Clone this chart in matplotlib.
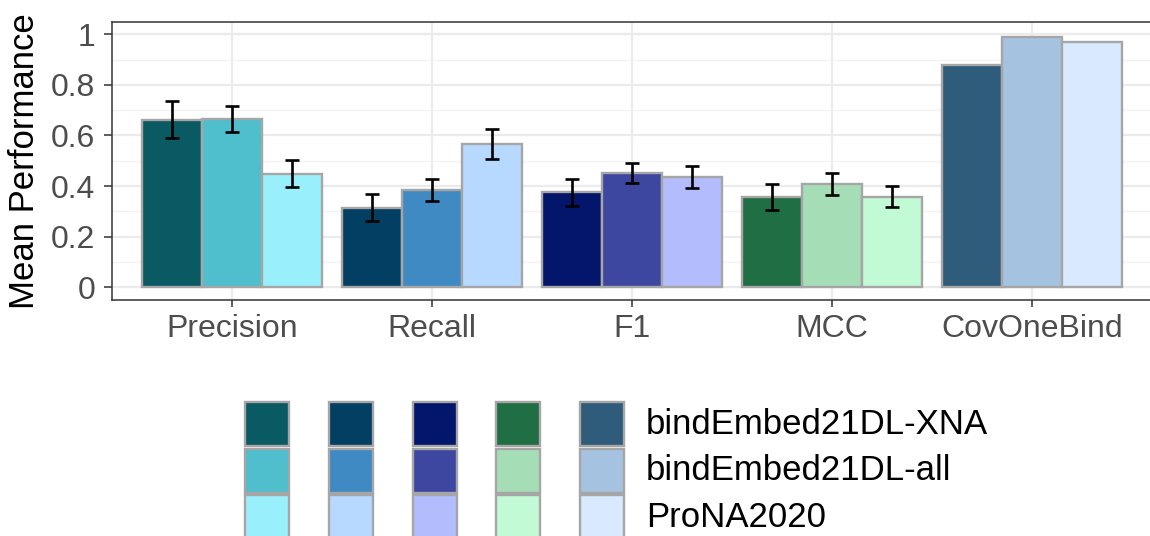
import numpy as np
import matplotlib
matplotlib.use("Agg")
import matplotlib.pyplot as plt
from matplotlib.patches import Rectangle

# ---- data ----
metrics = ["Precision", "Recall", "F1", "MCC", "CovOneBind"]
methods = ["bindEmbed21DL-XNA", "bindEmbed21DL-all", "ProNA2020"]
vals_xna = [0.662, 0.314, 0.375, 0.358, 0.877]
vals_all = [0.666, 0.384, 0.452, 0.408, 0.988]
vals_prona = [0.449, 0.566, 0.437, 0.358, 0.968]
err_xna = [0.074, 0.053, 0.054, 0.052, np.nan]
err_all = [0.052, 0.044, 0.041, 0.044, np.nan]
err_prona = [0.053, 0.060, 0.043, 0.041, np.nan]
colors_xna = ["#0A5A63", "#023F63", "#03166B", "#206E43", "#305C7C"]
colors_all = ["#4FBFCD", "#408AC4", "#3D479F", "#A5DDB7", "#A5C2E0"]
colors_prona = ["#99F0FC", "#B7D8FF", "#B3BCFC", "#C3FAD6", "#D9E9FF"]
yticks = [0, 0.2, 0.4, 0.6, 0.8, 1.0]
ytick_labels = ["0", "0.2", "0.4", "0.6", "0.8", "1"]

plt.rcParams['font.family'] = ['Liberation Sans', 'DejaVu Sans']

W, H = 1150, 536
fig = plt.figure(figsize=(W / 100, H / 100), dpi=100)
ax = fig.add_axes([112 / W, 1 - 300 / H, 1040 / W, (300 - 22.3) / H])

x = np.arange(1, len(metrics) + 1)
bw = 0.3
series = [(vals_xna, err_xna, colors_xna), (vals_all, err_all, colors_all),
          (vals_prona, err_prona, colors_prona)]
for k, (v, e, c) in enumerate(series):
    xs = x + (k - 1) * bw
    ax.bar(xs, v, width=bw, color=c, edgecolor="#A6A6A6", linewidth=1.7, zorder=3)
    ax.errorbar(xs, v, yerr=e, fmt="none", ecolor="black", elinewidth=1.9,
                capsize=4.8, capthick=1.9, zorder=4)

ax.set_xlim(0.4, 5.6)
ax.set_ylim(-0.05, 1.047)
ax.set_yticks(yticks)
ax.set_yticklabels(ytick_labels)
ax.set_yticks(np.arange(0.1, 1.01, 0.2), minor=True)
ax.set_xticks(x)
ax.set_xticklabels(metrics)
ax.tick_params(axis="y", which="major", length=6, width=1.1, color="#333333",
               labelsize=23, labelcolor="#4D4D4D", pad=6)
ax.tick_params(axis="x", which="major", length=5, width=1.1, color="#333333",
               labelsize=23, labelcolor="#4D4D4D", pad=5)
ax.tick_params(which="minor", length=0)
ax.grid(True, which="major", color="#EBEBEB", linewidth=1.6, zorder=0)
ax.grid(True, which="minor", axis="y", color="#F2F2F2", linewidth=1.0, zorder=0)
ax.set_axisbelow(True)
for s in ax.spines.values():
    s.set_color("#333333")
    s.set_linewidth(1.1)
ax.set_ylabel("Mean Performance", fontsize=25, color="black", labelpad=7)

# ---- legend (drawn in pixel coordinates) ----
lax = fig.add_axes([0, 0, 1, 1], zorder=5)
lax.set_xlim(0, W)
lax.set_ylim(H, 0)
lax.axis("off")
key = 44
col_x = 245
col_step = 83.8
row_y = 402
row_step = 46.7
for j, cols in enumerate([colors_xna, colors_all, colors_prona]):
    for i, c in enumerate(cols):
        lax.add_patch(Rectangle((col_x + i * col_step, row_y + j * row_step), key, key,
                                facecolor=c, edgecolor="#A6A6A6", linewidth=1.7))
    lax.text(646, row_y + j * row_step + key / 2, methods[j], fontsize=25,
             color="black", va="center", ha="left")

fig.savefig("out.png", dpi=100)
